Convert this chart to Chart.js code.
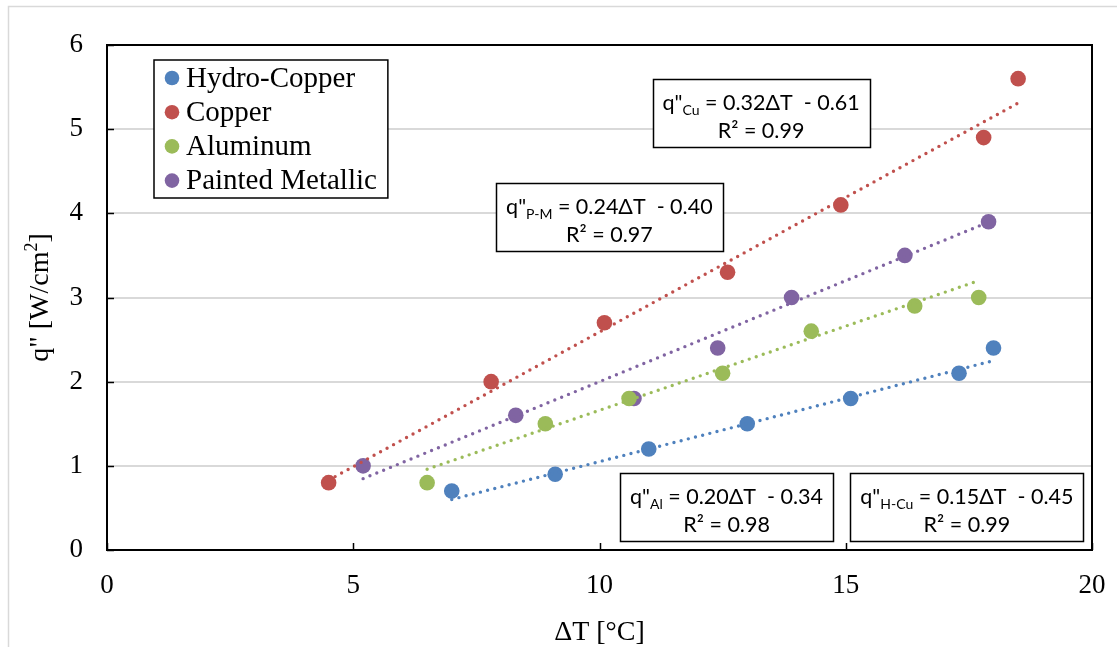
<!DOCTYPE html>
<html>
<head>
<meta charset="utf-8">
<script src="https://cdn.jsdelivr.net/npm/chart.js@4.4.1/dist/chart.umd.min.js"></script>
<style>
  html, body { margin: 0; padding: 0; background: #fff; }
  #wrap { position: relative; width: 1117px; height: 647px; }
  canvas { display: block; }
</style>
</head>
<body>
<div id="wrap"><canvas id="c" width="1117" height="647"></canvas></div>
<script>
// Measured heat flux vs. temperature difference for four surface finishes
const seriesNames = ['Hydro-Copper', 'Copper', 'Aluminum', 'Painted Metallic'];

const dT_hydro = [7.0, 9.1, 11.0, 13.0, 15.1, 17.3, 18.0];
const q_hydro  = [0.7, 0.9, 1.2, 1.5, 1.8, 2.1, 2.4];

const dT_cu = [4.5, 7.8, 10.1, 12.6, 14.9, 17.8, 18.5];
const q_cu  = [0.8, 2.0, 2.7, 3.3, 4.1, 4.9, 5.6];

const dT_al = [6.5, 8.9, 10.6, 12.5, 14.3, 16.4, 17.7];
const q_al  = [0.8, 1.5, 1.8, 2.1, 2.6, 2.9, 3.0];

const dT_pm = [5.2, 8.3, 10.7, 12.4, 13.9, 16.2, 17.9];
const q_pm  = [1.0, 1.6, 1.8, 2.4, 3.0, 3.5, 3.9];

// Linear fits q" = slope * dT + intercept, as reported
const fitSubscripts = ['H-Cu', 'Cu', 'Al', 'P-M'];
const fitSlopes     = [0.15, 0.32, 0.20, 0.24];
const fitIntercepts = [-0.45, -0.61, -0.34, -0.40];
const fitR2         = [0.99, 0.99, 0.98, 0.97];

// Axis ticks
const xTicks = [0, 5, 10, 15, 20];
const yTicks = [0, 1, 2, 3, 4, 5, 6];

const colors = ['#4F81BD', '#C0504D', '#9BBB59', '#8064A2'];
const xs = [dT_hydro, dT_cu, dT_al, dT_pm];
const ys = [q_hydro, q_cu, q_al, q_pm];

const SERIF = '"Liberation Serif", "Times New Roman", serif';
const SANS = 'Lato, "Open Sans", sans-serif';

const pointSets = xs.map((xv, i) => ({
  type: 'scatter',
  label: seriesNames[i],
  data: xv.map((x, k) => ({ x: x, y: ys[i][k] })),
  backgroundColor: colors[i],
  borderWidth: 0,
  pointRadius: 7.8,
  pointHoverRadius: 7.8,
  order: 2
}));

const trendSets = xs.map((xv, i) => {
  const x0 = Math.min(...xv), x1 = Math.max(...xv);
  return {
    type: 'line',
    label: seriesNames[i] + ' fit',
    data: [x0, x1].map(x => ({ x: x, y: fitSlopes[i] * x + fitIntercepts[i] })),
    borderColor: colors[i],
    borderWidth: 3.4,
    borderDash: [0, 7.4],
    borderCapStyle: 'round',
    pointRadius: 0,
    fill: false,
    tension: 0,
    order: 1
  };
});

// Where each fit box sits (centre, in data units)
const fitBoxAnchors = [
  { x: 17.46, y: 0.51 },
  { x: 13.28, y: 5.19 },
  { x: 12.58, y: 0.51 },
  { x: 10.20, y: 3.96 }
];

function drawParts(ctx, parts, cx, baseline) {
  let total = 0;
  parts.forEach(p => { ctx.font = p.font; p.w = ctx.measureText(p.text).width; total += p.w; });
  let x = cx - total / 2;
  ctx.textAlign = 'left';
  ctx.textBaseline = 'alphabetic';
  parts.forEach(p => {
    ctx.font = p.font;
    ctx.fillText(p.text, x, baseline + (p.dy || 0));
    x += p.w;
  });
  return total;
}

const decorations = {
  id: 'decorations',
  beforeDraw(chart) {
    const ctx = chart.ctx;
    ctx.save();
    ctx.strokeStyle = '#d9d9d9';
    ctx.lineWidth = 1.5;
    ctx.strokeRect(8.5, 6.5, 1300, 800);
    ctx.restore();
  },
  afterDraw(chart) {
    const ctx = chart.ctx;
    const ca = chart.chartArea;
    const xs_ = chart.scales.x, ys_ = chart.scales.y;
    ctx.save();

    // plot frame
    ctx.strokeStyle = '#000';
    ctx.lineWidth = 2;
    ctx.strokeRect(ca.left, ca.top, ca.right - ca.left, ca.bottom - ca.top);

    // inside tick marks
    ctx.lineWidth = 1.5;
    ctx.beginPath();
    xTicks.forEach(v => {
      const px = Math.round(xs_.getPixelForValue(v)) + 0.5;
      ctx.moveTo(px, ca.bottom);
      ctx.lineTo(px, ca.bottom - 7);
    });
    yTicks.forEach(v => {
      const py = Math.round(ys_.getPixelForValue(v)) + 0.5;
      ctx.moveTo(ca.left, py);
      ctx.lineTo(ca.left + 7, py);
    });
    ctx.stroke();

    // axis titles
    ctx.fillStyle = '#000';
    drawParts(ctx, [{ text: '\u0394T [\u00B0C]', font: '28px ' + SERIF }], (ca.left + ca.right) / 2, 640);
    ctx.save();
    ctx.translate(48, (ca.top + ca.bottom) / 2);
    ctx.rotate(-Math.PI / 2);
    drawParts(ctx, [
      { text: 'q" [W/cm', font: '28px ' + SERIF },
      { text: '2', font: '18px ' + SERIF, dy: -11 },
      { text: ']', font: '28px ' + SERIF }
    ], 0, 0);
    ctx.restore();

    // legend
    const lgLeft = ca.left + 47, lgTop = ca.top + 15;
    const lgFont = '29px ' + SERIF;
    ctx.font = lgFont;
    const maxW = Math.max(...seriesNames.map(n => ctx.measureText(n).width));
    const lgW = 33 + maxW + 10, lgH = 138;
    ctx.fillStyle = '#fff';
    ctx.fillRect(lgLeft, lgTop, lgW, lgH);
    ctx.strokeStyle = '#000';
    ctx.lineWidth = 1.5;
    ctx.strokeRect(lgLeft, lgTop, lgW, lgH);
    seriesNames.forEach((n, i) => {
      const cy = lgTop + 18 + i * 34.2;
      ctx.fillStyle = colors[i];
      ctx.beginPath();
      ctx.arc(lgLeft + 18, cy, 7.3, 0, Math.PI * 2);
      ctx.fill();
      ctx.fillStyle = '#000';
      ctx.textAlign = 'left';
      ctx.textBaseline = 'middle';
      ctx.font = lgFont;
      ctx.fillText(n, lgLeft + 32, cy + 1);
    });

    // fit equation boxes
    fitSubscripts.forEach((sub, i) => {
      const cx = xs_.getPixelForValue(fitBoxAnchors[i].x);
      const cy = ys_.getPixelForValue(fitBoxAnchors[i].y);
      const eq = ' = ' + fitSlopes[i].toFixed(2) + '\u0394T  - ' + Math.abs(fitIntercepts[i]).toFixed(2);
      const parts1 = [
        { text: 'q"', font: '21.5px ' + SANS },
        { text: sub, font: '14px ' + SANS, dy: 5 },
        { text: eq, font: '21.5px ' + SANS }
      ];
      let w = 0;
      parts1.forEach(p => { ctx.font = p.font; w += ctx.measureText(p.text).width; });
      const bw = Math.round(w + 20), bh = 68;
      const bx = Math.round(cx - bw / 2) + 0.5, by = Math.round(cy - bh / 2) + 0.5;
      ctx.fillStyle = '#fff';
      ctx.fillRect(bx, by, bw, bh);
      ctx.strokeStyle = '#000';
      ctx.lineWidth = 1.5;
      ctx.strokeRect(bx, by, bw, bh);
      ctx.fillStyle = '#000';
      drawParts(ctx, parts1, cx, by + 30);
      drawParts(ctx, [{ text: 'R\u00B2 = ' + fitR2[i].toFixed(2), font: '21.5px ' + SANS }], cx, by + 58);
    });

    ctx.restore();
  }
};

new Chart(document.getElementById('c'), {
  type: 'scatter',
  data: { datasets: [...trendSets, ...pointSets] },
  options: {
    responsive: false,
    devicePixelRatio: 1,
    animation: false,
    events: [],
    layout: { padding: { top: 45, right: 25, left: 0, bottom: 0 } },
    plugins: { legend: { display: false }, tooltip: { enabled: false } },
    scales: {
      x: {
        type: 'linear',
        min: 0, max: 20,
        afterBuildTicks: s => { s.ticks = xTicks.map(v => ({ value: v })); },
        afterFit: s => { s.height = 97; s.paddingLeft = 0; s.paddingRight = 0; },
        grid: { display: false, drawTicks: false, tickLength: 0 },
        border: { display: true, color: '#000', width: 2 },
        ticks: { color: '#000', font: { family: SERIF, size: 27 }, padding: 20, maxRotation: 0 }
      },
      y: {
        type: 'linear',
        min: 0, max: 6,
        afterBuildTicks: s => { s.ticks = yTicks.map(v => ({ value: v })); },
        afterFit: s => { s.width = 107; s.paddingTop = 0; s.paddingBottom = 0; },
        grid: {
          color: ctx => (ctx.tick && (ctx.tick.value === 0 || ctx.tick.value === 6)) ? 'rgba(0,0,0,0)' : '#d9d9d9',
          lineWidth: 2,
          drawTicks: false,
          tickLength: 0
        },
        border: { display: true, color: '#000', width: 2 },
        ticks: { color: '#000', font: { family: SERIF, size: 27 }, padding: 24 }
      }
    }
  },
  plugins: [decorations]
});
</script>
</body>
</html>
